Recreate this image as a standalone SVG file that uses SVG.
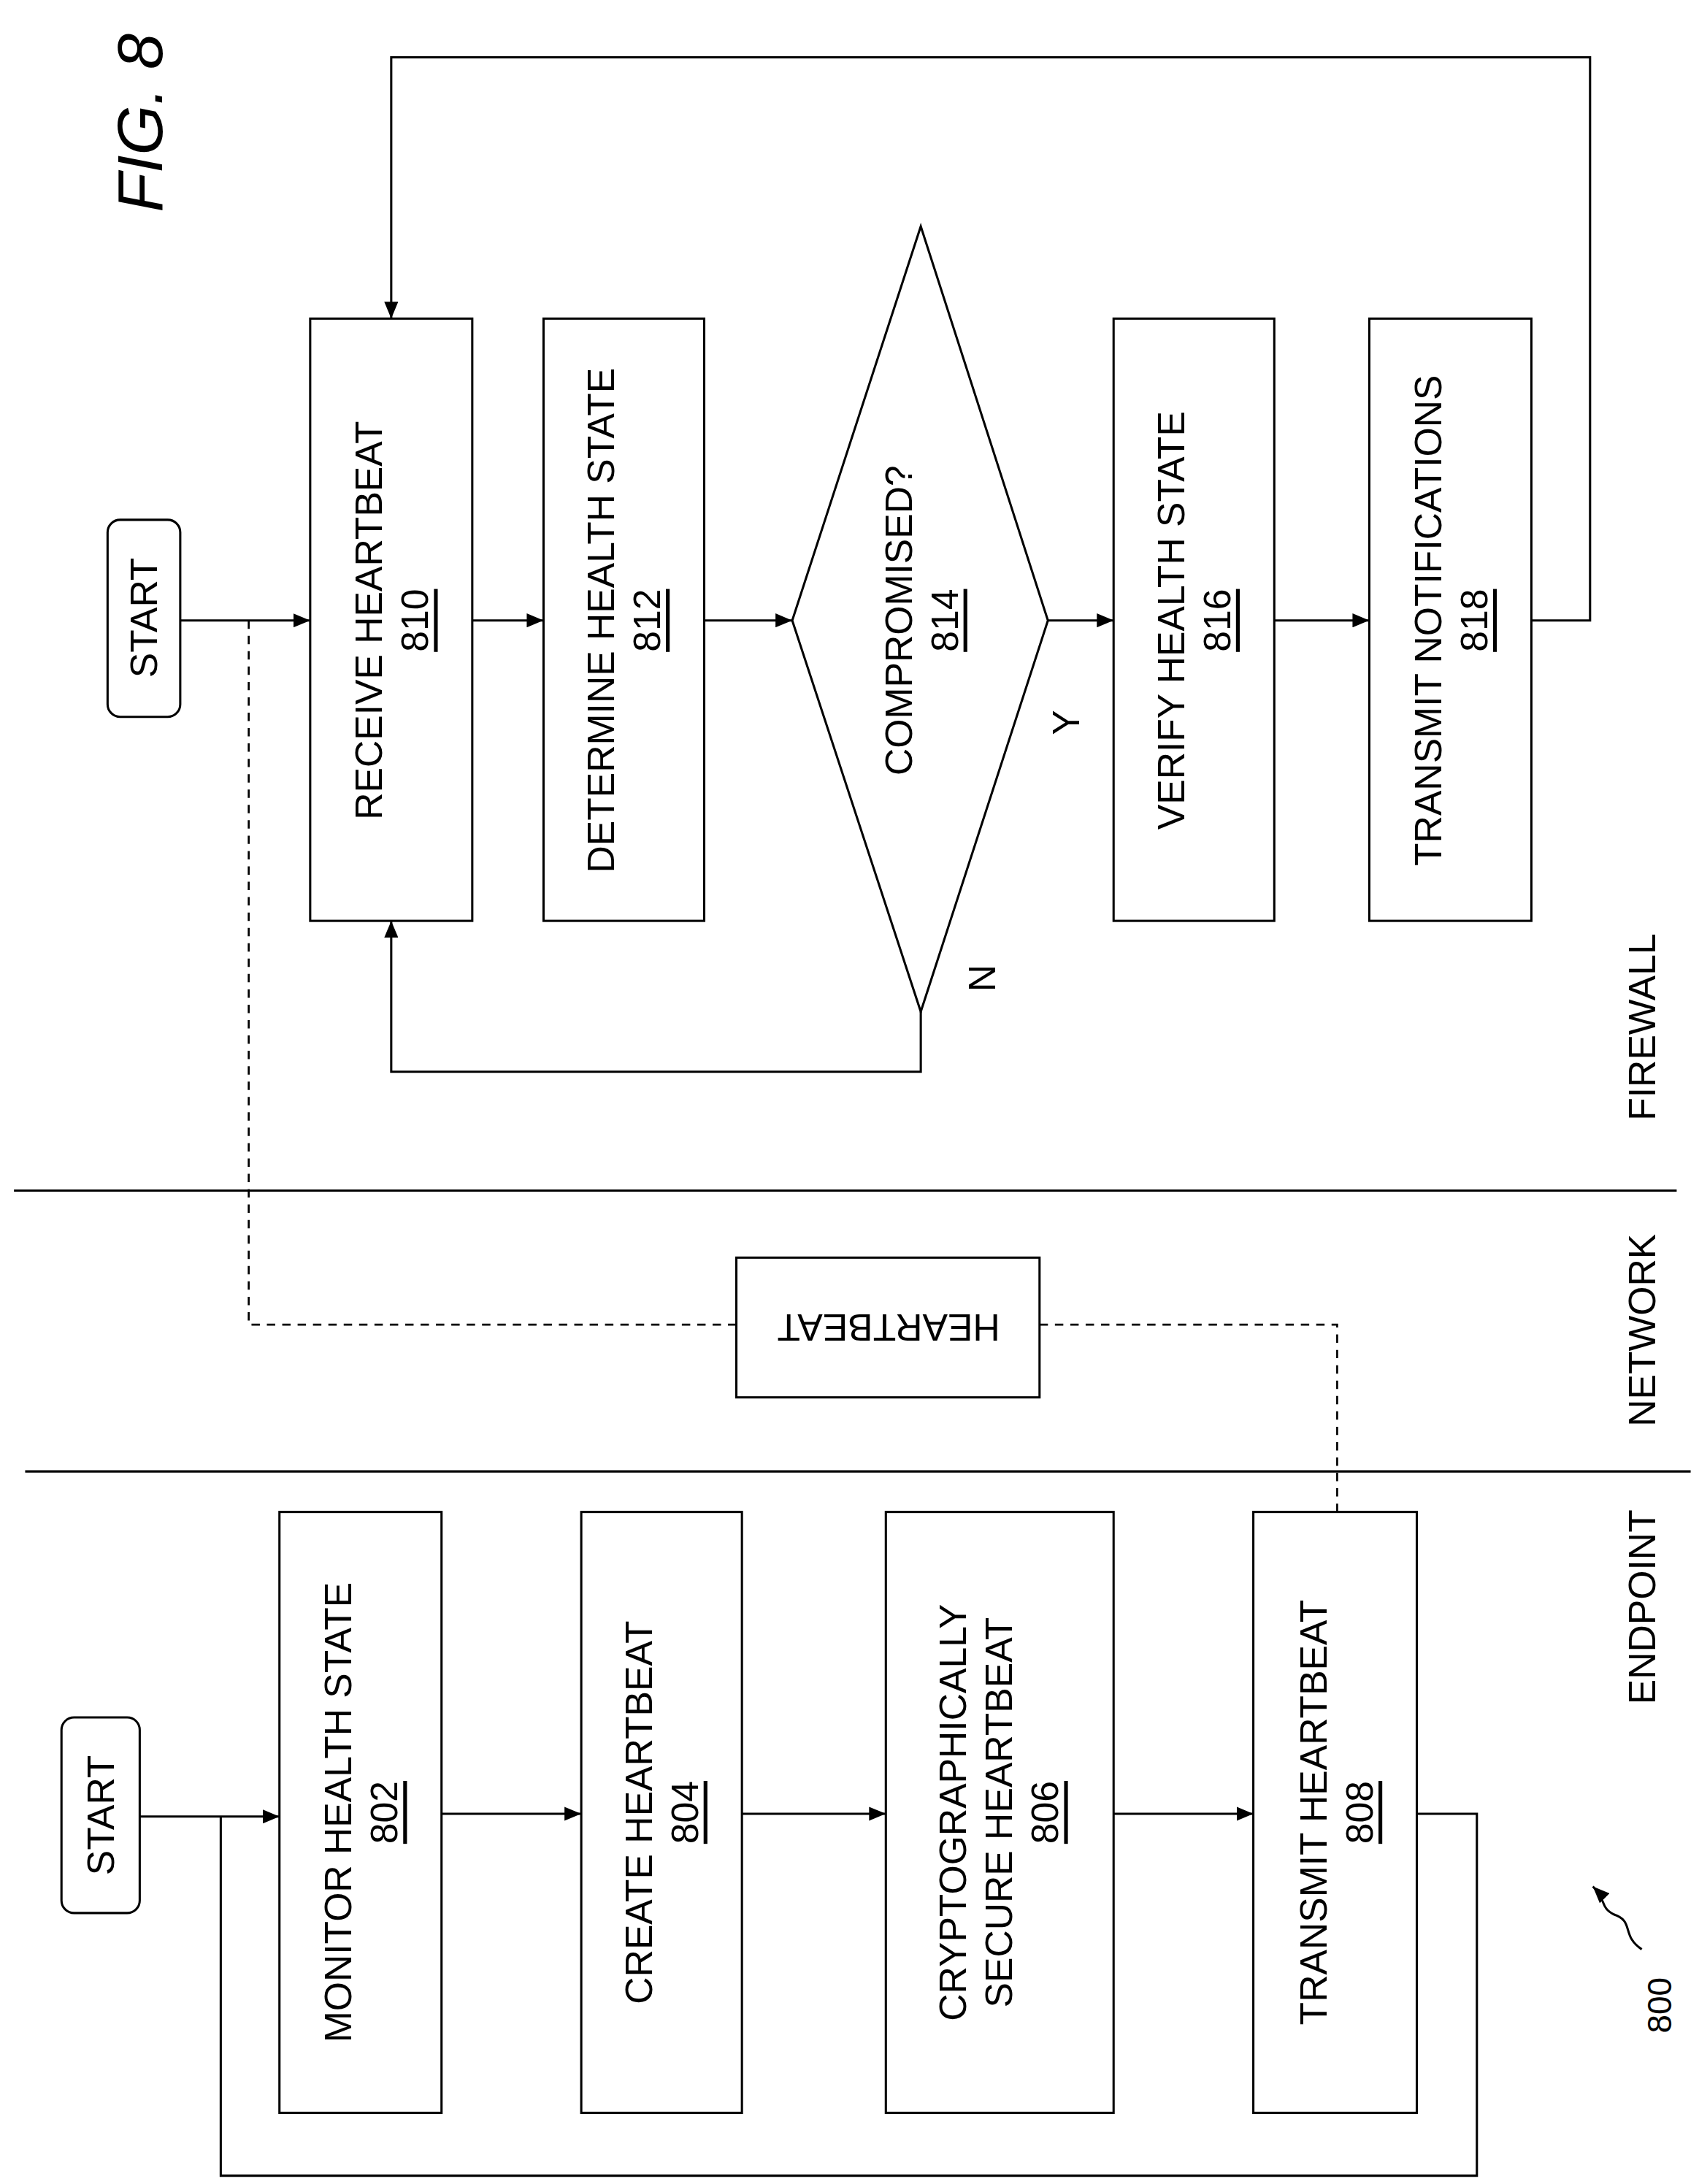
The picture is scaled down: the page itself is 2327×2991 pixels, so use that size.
<svg xmlns="http://www.w3.org/2000/svg" width="2327" height="2991" viewBox="0 0 2327 2991">
<style>
.b{fill:#fff;stroke:#000;stroke-width:1.6}
.l{fill:none;stroke:#000;stroke-width:1.6}
.d{fill:none;stroke:#000;stroke-width:1.4;stroke-dasharray:6,5}
text{font-family:"Liberation Sans",Arial,sans-serif;font-size:27px;fill:#000;text-anchor:middle;dominant-baseline:central}
.u{text-decoration:underline}
</style>
<defs><marker id="a" markerWidth="12" markerHeight="10" refX="12" refY="5" orient="auto" markerUnits="userSpaceOnUse"><path d="M0,0L12,5L0,10z"/></marker></defs>
<rect width="2327" height="2991" fill="#fff"/>
<g transform="scale(1.9137)">
<text x="100" y="88" transform="rotate(-90 100 88)" style="font-size:46px;font-style:italic">FIG. 8</text>
<g id="connectors">
<path class="l" d="M129,444H222" marker-end="url(#a)"/>
<path class="l" d="M338,444H389" marker-end="url(#a)"/>
<path class="l" d="M504,444H567" marker-end="url(#a)"/>
<path class="l" d="M750,444H797" marker-end="url(#a)"/>
<path class="l" d="M912,444H980" marker-end="url(#a)"/>
<path class="l" d="M1096,444H1138V41H280V228" marker-end="url(#a)"/>
<path class="l" d="M659,724V767H280V659" marker-end="url(#a)"/>
<path class="d" d="M178,444V948H527M744,948H957V1082"/>
<path class="l" d="M100,1300H200" marker-end="url(#a)"/>
<path class="l" d="M316,1298H416" marker-end="url(#a)"/>
<path class="l" d="M531,1298H634" marker-end="url(#a)"/>
<path class="l" d="M797,1298H897" marker-end="url(#a)"/>
<path class="l" d="M1014,1298H1057V1557H158V1300"/>
<path class="l" d="M10,852H1200M18,1053H1210"/>
<path class="l" d="M1175,1395C1160,1385 1170,1375 1155,1370C1145,1365 1150,1360 1140,1350" marker-end="url(#a)"/>
</g>
<g id="start1"><rect class="b" x="77" y="372" width="52" height="141" rx="9"/><text x="103" y="442" transform="rotate(-90 103 442)">START</text></g>
<g id="n810"><rect class="b" x="222" y="228" width="116" height="431"/><text transform="rotate(-90 280 444)" x="280" y="444"><tspan x="280" dy="-16">RECEIVE HEARTBEAT</tspan><tspan x="280" dy="33" class="u">810</tspan></text></g>
<g id="n812"><rect class="b" x="389" y="228" width="115" height="431"/><text transform="rotate(-90 446 444)" x="446" y="444"><tspan x="446" dy="-16">DETERMINE HEALTH STATE</tspan><tspan x="446" dy="33" class="u">812</tspan></text></g>
<g id="n814"><path class="b" d="M659,162L750,444L659,724L567,444z"/><text transform="rotate(-90 659 444)" x="659" y="444"><tspan x="659" dy="-16">COMPROMISED?</tspan><tspan x="659" dy="33" class="u">814</tspan></text></g>
<g id="n816"><rect class="b" x="797" y="228" width="115" height="431"/><text transform="rotate(-90 854 444)" x="854" y="444"><tspan x="854" dy="-16">VERIFY HEALTH STATE</tspan><tspan x="854" dy="33" class="u">816</tspan></text></g>
<g id="n818"><rect class="b" x="980" y="228" width="116" height="431"/><text transform="rotate(-90 1038 444)" x="1038" y="444"><tspan x="1038" dy="-16">TRANSMIT NOTIFICATIONS</tspan><tspan x="1038" dy="33" class="u">818</tspan></text></g>
<text x="763" y="517" transform="rotate(-90 763 517)">Y</text>
<text x="703" y="700" transform="rotate(-90 703 700)">N</text>
<text x="1175" y="735" transform="rotate(-90 1175 735)">FIREWALL</text>
<text x="1175" y="952" transform="rotate(-90 1175 952)">NETWORK</text>
<text x="1175" y="1150" transform="rotate(-90 1175 1150)">ENDPOINT</text>
<g id="hb"><rect class="b" x="527" y="900" width="217" height="100"/><text x="636" y="950" transform="rotate(180 636 950)">HEARTBEAT</text></g>
<g id="start2"><rect class="b" x="44" y="1229" width="56" height="140" rx="9"/><text x="72" y="1299" transform="rotate(-90 72 1299)">START</text></g>
<g id="n802"><rect class="b" x="200" y="1082" width="116" height="430"/><text transform="rotate(-90 258 1297)" x="258" y="1297"><tspan x="258" dy="-16">MONITOR HEALTH STATE</tspan><tspan x="258" dy="33" class="u">802</tspan></text></g>
<g id="n804"><rect class="b" x="416" y="1082" width="115" height="430"/><text transform="rotate(-90 473 1297)" x="473" y="1297"><tspan x="473" dy="-16">CREATE HEARTBEAT</tspan><tspan x="473" dy="33" class="u">804</tspan></text></g>
<g id="n806"><rect class="b" x="634" y="1082" width="163" height="430"/><text transform="rotate(-90 715 1297)" x="715" y="1297"><tspan x="715" dy="-33">CRYPTOGRAPHICALLY</tspan><tspan x="715" dy="33">SECURE HEARTBEAT</tspan><tspan x="715" dy="33" class="u">806</tspan></text></g>
<g id="n808"><rect class="b" x="897" y="1082" width="117" height="430"/><text transform="rotate(-90 956 1297)" x="956" y="1297"><tspan x="956" dy="-16">TRANSMIT HEARTBEAT</tspan><tspan x="956" dy="33" class="u">808</tspan></text></g>
<text x="1188" y="1435" transform="rotate(-90 1188 1435)" style="font-size:24px">800</text>
</g>
</svg>
